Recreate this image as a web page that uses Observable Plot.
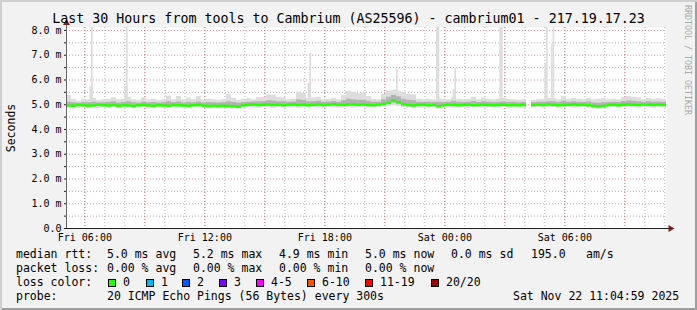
<!DOCTYPE html>
<html><head><meta charset="utf-8">
<script src="https://cdn.jsdelivr.net/npm/d3@7"></script>
<script src="https://cdn.jsdelivr.net/npm/@observablehq/plot@0.6"></script>
<style>
body{margin:0;background:#fff}
#wrap{position:relative;width:697px;height:310px;background:#f2f2f2;box-shadow:inset 2px 2px 0 #cfcfcf, inset -2px -2px 0 #9e9e9e;overflow:hidden;font-family:"DejaVu Sans Mono",monospace;color:#000}
#chart{position:absolute;left:0;top:0}
.t{position:absolute;white-space:pre;font-size:11.5px;line-height:14px}
.sw{position:absolute;width:8px;height:8px;box-sizing:border-box;border:1px solid #000}
#title{position:absolute;left:0;top:10px;width:697px;text-align:center;font-size:13.3px;line-height:17px;white-space:pre}
#ylab{position:absolute;left:11px;top:128px;transform:translate(-50%,-50%) rotate(-90deg);font-size:11.5px;white-space:pre}
#wm{position:absolute;left:683px;top:5px;writing-mode:vertical-rl;font-size:8.3px;color:#a8a8a8;white-space:pre;line-height:9px}
</style></head>
<body><div id="wrap"><div id="chart"></div></div>
<script>
const titleText = "Last 30 Hours from tools to Cambrium (AS25596) - cambrium01 - 217.19.17.23";
const yAxisTitle = "Seconds";
const watermark = "RRDTOOL / TOBI OETIKER";

// time window (UTC) and 15-minute bins
const tStart = new Date("2025-11-21T05:05:00Z");
const tEnd = new Date("2025-11-22T11:05:00Z");
const binMinutes = 15;

// median rtt per bin (ms)
const med = [
4.97,4.96,4.99,4.98,4.96,4.97,5.00,4.98,4.97,4.99,
4.96,4.98,4.97,4.95,4.98,4.99,4.97,4.96,4.98,4.97,
4.96,4.99,4.98,4.97,4.96,4.98,4.99,4.97,4.95,4.96,
4.95,4.96,4.95,4.94,4.92,4.98,5.00,5.01,4.99,5.00,
5.01,4.99,5.00,4.98,5.00,5.01,4.99,5.00,4.98,5.00,
5.01,4.99,5.00,5.02,5.00,4.99,5.01,5.02,5.00,5.01,
4.99,4.98,5.00,5.03,5.08,5.17,5.10,5.02,4.99,4.97,
4.99,5.00,4.98,4.99,4.94,4.98,5.00,4.99,4.98,4.99,
5.00,4.98,4.99,5.00,4.99,4.98,4.99,5.00,4.98,4.99,
4.98,4.99,null,4.99,5.00,4.99,5.01,5.00,4.98,4.99,
5.00,5.01,4.99,5.00,4.98,4.95,4.93,4.95,4.99,5.00,
4.98,5.00,5.01,5.00,4.99,5.01,5.00,4.99,5.00,4.99];
// smoke: highest ping per bin
const hi = [
5.37,5.22,5.15,5.22,5.20,5.25,5.18,5.20,5.22,5.28,
5.20,5.22,5.30,5.20,5.18,5.28,5.20,5.22,5.18,5.20,
5.35,5.20,5.33,5.20,5.27,5.20,5.33,5.18,5.22,5.20,
5.18,5.20,5.42,5.25,5.18,5.22,5.25,5.20,5.28,5.30,
5.40,5.38,5.30,5.28,5.20,5.22,5.50,5.45,5.25,5.28,
5.30,5.20,5.22,5.25,5.20,5.38,5.53,5.50,5.45,5.48,
5.33,5.22,5.20,5.42,5.55,5.58,5.55,5.50,5.42,5.40,
5.22,5.20,5.22,5.20,5.25,5.22,5.20,5.30,5.22,5.20,
5.22,5.30,5.20,5.27,5.22,5.20,5.22,5.25,5.22,5.20,
5.18,5.20,null,5.18,5.21,5.22,5.25,5.25,5.20,5.33,
5.22,5.25,5.22,5.20,5.25,5.20,5.22,5.24,5.20,5.22,
5.20,5.30,5.33,5.30,5.28,5.20,5.25,5.22,5.24,5.22];
// smoke: lowest ping per bin
const lo = [
4.86,4.88,4.84,4.87,4.86,4.88,4.85,4.87,4.86,4.88,
4.86,4.85,4.87,4.84,4.86,4.88,4.86,4.87,4.85,4.86,
4.88,4.86,4.85,4.87,4.86,4.88,4.86,4.85,4.84,4.86,
4.85,4.84,4.86,4.83,4.82,4.86,4.88,4.87,4.86,4.88,
4.87,4.86,4.88,4.86,4.87,4.88,4.86,4.87,4.86,4.88,
4.87,4.86,4.88,4.87,4.86,4.88,4.87,4.86,4.88,4.87,
4.87,4.86,4.88,4.90,4.92,4.96,4.93,4.88,4.86,4.85,
4.87,4.86,4.88,4.87,4.84,4.86,4.87,4.86,4.88,4.87,
4.86,4.88,4.87,4.86,4.88,4.87,4.86,4.88,4.87,4.86,
4.87,4.86,null,4.87,4.88,4.86,4.87,4.88,4.86,4.87,
4.88,4.86,4.87,4.88,4.86,4.84,4.82,4.84,4.87,4.88,
4.86,4.87,4.88,4.87,4.86,4.88,4.87,4.86,4.88,4.87];
// smoke core: upper / lower quartile pings
const q3 = [
5.10,5.08,5.06,5.09,5.08,5.10,5.07,5.08,5.09,5.12,
5.07,5.09,5.12,5.08,5.06,5.10,5.08,5.09,5.07,5.08,
5.12,5.08,5.11,5.07,5.10,5.08,5.11,5.07,5.09,5.08,
5.07,5.08,5.12,5.09,5.06,5.09,5.10,5.11,5.12,5.12,
5.16,5.15,5.12,5.12,5.10,5.11,5.20,5.18,5.12,5.12,
5.14,5.10,5.11,5.13,5.10,5.16,5.22,5.20,5.18,5.18,
5.14,5.10,5.10,5.20,5.30,5.38,5.32,5.22,5.18,5.16,
5.10,5.09,5.10,5.09,5.10,5.09,5.10,5.14,5.10,5.09,
5.10,5.13,5.09,5.12,5.10,5.09,5.10,5.11,5.09,5.10,
5.08,5.09,null,5.08,5.10,5.10,5.12,5.12,5.09,5.14,
5.10,5.12,5.10,5.09,5.11,5.07,5.06,5.08,5.09,5.10,
5.09,5.13,5.15,5.14,5.12,5.10,5.12,5.10,5.11,5.10];
const q1 = [
4.93,4.92,4.94,4.93,4.92,4.93,4.95,4.93,4.92,4.94,
4.92,4.93,4.92,4.91,4.93,4.94,4.92,4.92,4.93,4.92,
4.92,4.94,4.93,4.92,4.92,4.93,4.94,4.92,4.91,4.92,
4.91,4.92,4.91,4.90,4.89,4.93,4.95,4.95,4.94,4.95,
4.95,4.94,4.95,4.93,4.95,4.95,4.94,4.95,4.93,4.95,
4.95,4.94,4.95,4.96,4.95,4.94,4.95,4.96,4.95,4.95,
4.94,4.93,4.95,4.97,5.00,5.06,5.02,4.96,4.94,4.92,
4.94,4.95,4.93,4.94,4.91,4.93,4.95,4.94,4.93,4.94,
4.95,4.93,4.94,4.95,4.94,4.93,4.94,4.95,4.93,4.94,
4.93,4.94,null,4.94,4.95,4.94,4.95,4.95,4.93,4.94,
4.95,4.95,4.94,4.95,4.93,4.91,4.89,4.91,4.94,4.95,
4.93,4.95,4.95,4.95,4.94,4.95,4.95,4.94,4.95,4.94];

// outlier pings (spikes)
const spikeFrom = ["2025-11-21T06:15","2025-11-21T06:20","2025-11-21T08:00","2025-11-21T08:05",
 "2025-11-21T17:10","2025-11-21T17:15","2025-11-21T21:30","2025-11-21T21:35","2025-11-21T23:35",
 "2025-11-22T00:25","2025-11-22T00:30","2025-11-22T02:45","2025-11-22T05:00","2025-11-22T05:05",
 "2025-11-22T05:20","2025-11-22T05:25"];
const spikeTo = ["2025-11-21T06:25","2025-11-21T06:25","2025-11-21T08:10","2025-11-21T08:10",
 "2025-11-21T17:20","2025-11-21T17:20","2025-11-21T21:40","2025-11-21T21:40","2025-11-21T23:45",
 "2025-11-22T00:35","2025-11-22T00:35","2025-11-22T02:55","2025-11-22T05:05","2025-11-22T05:10",
 "2025-11-22T05:25","2025-11-22T05:30"];
const spikeTop = [5.74,8.3,5.74,8.3,5.86,7.07,5.6,6.42,8.3,5.6,6.46,8.3,6.66,8.3,7.43,8.3];

// axis ticks
const yTicks = [0,1,2,3,4,5,6,7,8];
const yTickLabels = ["0.0","1.0 m","2.0 m","3.0 m","4.0 m","5.0 m","6.0 m","7.0 m","8.0 m"];
const yMinorTicks = [0.5,1.5,2.5,3.5,4.5,5.5,6.5,7.5];
const xTickLabels = ["Fri 06:00","Fri 12:00","Fri 18:00","Sat 00:00","Sat 06:00"];

// legend
const rttLabel = "median rtt:";
const rttStats = ["5.0 ms avg","5.2 ms max","4.9 ms min","5.0 ms now","0.0 ms sd","195.0","am/s"];
const lossLabel = "packet loss:";
const lossStats = ["0.00 % avg","0.00 % max","0.00 % min","0.00 % now"];
const lossColorLabel = "loss color:";
const lossNames = ["0","1","2","3","4-5","6-10","11-19","20/20"];
const lossColors = ["#26ff00","#00b8ff","#0059ff","#7e00ff","#ff00ff","#ff5500","#ff0000","#a10000"];
const probeLabel = "probe:";
const probeText = "20 ICMP Echo Pings (56 Bytes) every 300s";
const stampText = "Sat Nov 22 11:04:59 2025";

// ---- build
const STEP = binMinutes*60000;
const bins = med.map((m,i)=>({x1:new Date(+tStart+i*STEP), x2:new Date(+tStart+(i+1)*STEP), med:m, lo:lo[i], hi:hi[i], q1:q1[i], q3:q3[i]}))
  .filter(d=>d.med!=null);
const spikes = spikeFrom.map((s,i)=>({x1:new Date(s+"Z"), x2:new Date(spikeTo[i]+"Z"), top:spikeTop[i]}));
const hours = d3.utcHour.range(tStart, tEnd);
const hoursMajor = hours.filter(d=>d.getUTCHours()%3===0);
const xTicks = hours.filter(d=>d.getUTCHours()%6===0);
const tArrow = new Date(+tEnd + 12*60000);
const yAll = yTicks.concat(yMinorTicks);
const dash = "1,2";

const plot = Plot.plot({
  width:697, height:250,
  marginLeft:66, marginRight:31, marginTop:27, marginBottom:22,
  style:{background:"transparent", fontFamily:"DejaVu Sans Mono", fontSize:"10px", color:"#000", overflow:"visible"},
  x:{type:"utc", domain:[tStart,tEnd], label:null},
  y:{domain:[0,8.12], label:null},
  marks:[
    Plot.frame({fill:"white", stroke:null}),
    Plot.ruleY(yMinorTicks,{stroke:"#8f8f8f", strokeOpacity:0.7, strokeDasharray:dash}),
    Plot.ruleX(hours,{stroke:"#8f8f8f", strokeOpacity:0.7, strokeDasharray:dash}),
    Plot.ruleY(yTicks.slice(1),{stroke:"#de4f4f", strokeOpacity:0.6, strokeDasharray:dash}),
    Plot.ruleX(hoursMajor,{stroke:"#de4f4f", strokeOpacity:0.6, strokeDasharray:dash}),
    Plot.rect(spikes,{x1:"x1", x2:"x2", y1:()=>5.0, y2:"top", fill:"#dddddd", clip:true}),
    Plot.rect(bins,{x1:"x1", x2:"x2", y1:"lo", y2:"hi", fill:"#dddddd"}),
    Plot.rect(bins,{x1:"x1", x2:"x2", y1:"q1", y2:"q3", fill:"#b3b3b3"}),
    Plot.ruleY(bins,{x1:"x1", x2:"x2", y:"med", stroke:"#26ff00", strokeWidth:2.5}),
    Plot.axisY(yAll,{tickSize:2, tickPadding:3, stroke:"#1f1f1f", label:null,
      tickFormat:d=>{const i=yTicks.indexOf(d); return i<0?"":yTickLabels[i];}}),
    Plot.axisX(xTicks,{tickSize:0, tickPadding:5, label:null,
      tickFormat:(d,i)=>xTickLabels[xTicks.indexOf(d)]}),
    Plot.ruleX([tStart],{y1:0, y2:8.25, stroke:"#666"}),
    Plot.ruleY([0],{x1:tStart, x2:tArrow, stroke:"#1f1f1f"}),
    Plot.dot([{x:tStart,y:8.3}],{x:"x", y:"y", symbol:"triangle", r:2.6, fill:"#801f1f", stroke:null}),
    Plot.dot([{x:tArrow,y:0}],{x:"x", y:"y", symbol:"triangle", r:2.6, rotate:90, fill:"#801f1f", stroke:null})
  ]
});
const wrap = document.getElementById("wrap");
document.getElementById("chart").appendChild(plot);

function put(txt, x, yc, cls){const s=document.createElement("div"); s.className=cls||"t"; s.textContent=txt; s.style.left=x+"px"; s.style.top=(yc-7)+"px"; wrap.appendChild(s); return s;}
const tt=document.createElement("div"); tt.id="title"; tt.textContent=titleText; wrap.appendChild(tt);
const yl=document.createElement("div"); yl.id="ylab"; yl.textContent=yAxisTitle; wrap.appendChild(yl);
const wm=document.createElement("div"); wm.id="wm"; wm.textContent=watermark; wrap.appendChild(wm);

// legend rows
const rttX=[107,193,279,365,451,531,586];
put(rttLabel,16,254); rttStats.forEach((s,i)=>put(s,rttX[i],254));
put(lossLabel,16,268); lossStats.forEach((s,i)=>put(s,rttX[i],268));
put(lossColorLabel,16,282);
const swX=[108,146,182,219,256,307,365,431];
lossNames.forEach((n,i)=>{
  const b=document.createElement("div"); b.className="sw"; b.style.left=swX[i]+"px"; b.style.top="279px"; b.style.background=lossColors[i]; wrap.appendChild(b);
  put(n,swX[i]+15,282);
});
put(probeLabel,16,296); put(probeText,107,296);
put(stampText,513,296);
</script></body></html>
